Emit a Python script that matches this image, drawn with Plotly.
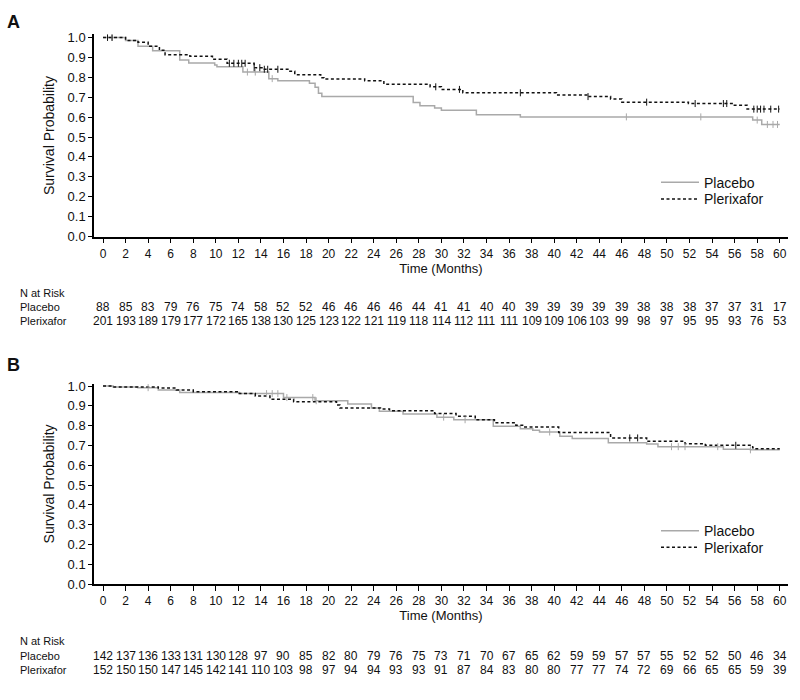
import numpy as np
import plotly.graph_objects as go

# ---------------- data ----------------
risk_times = list(range(0, 61, 2))

# Panel A
a_plac_t = [0, 2.0, 3.1, 4.4, 6.8, 7.6, 9.9, 10.1, 12.4, 14.7, 15.5, 18.3, 18.8, 19.1, 19.4,
            27.5, 28.1, 29.4, 30.0, 33.1, 37.0, 57.6, 58.4, 60]
a_plac_s = [1.0, 0.985, 0.955, 0.933, 0.887, 0.872, 0.862, 0.852, 0.826, 0.793, 0.782, 0.77, 0.75, 0.72, 0.703,
            0.673, 0.657, 0.645, 0.634, 0.612, 0.601, 0.585, 0.563, 0.563]
a_plac_cens = [0.4, 0.8, 12.8, 13.5, 15.0, 46.4, 53.0, 58.0, 58.9, 59.4, 59.8]

a_pler_t = [0, 2.0, 3.1, 4.0, 5.0, 5.5, 7.7, 9.7, 11.0, 13.4, 14.2, 16.5, 17.0, 19.3, 19.6, 23.2, 24.9,
            29.0, 30.0, 31.9, 40.2, 43.0, 45.0, 46.0, 51.9, 55.9, 57.1, 60]
a_pler_s = [1.0, 0.985, 0.975, 0.955, 0.935, 0.913, 0.905, 0.89, 0.87, 0.848, 0.84, 0.83, 0.813, 0.798, 0.791,
            0.782, 0.765, 0.752, 0.739, 0.722, 0.711, 0.703, 0.691, 0.675, 0.668, 0.659, 0.64, 0.64]
a_pler_cens = [0.4, 0.8, 11.2, 11.6, 12.0, 12.3, 12.6, 13.4, 13.9, 14.3, 14.6, 15.5, 29.5, 31.6, 37.0,
               43.0, 48.2, 52.5, 55.0, 55.3, 57.7, 58.0, 58.3, 58.6, 59.2, 59.9]

a_risk_plac = [88, 85, 83, 79, 76, 75, 74, 58, 52, 52, 46, 46, 46, 46, 44, 41, 41, 40, 40, 39, 39, 39, 39, 39,
               38, 38, 38, 37, 37, 31, 17]
a_risk_pler = [201, 193, 189, 179, 177, 172, 165, 138, 130, 125, 123, 122, 121, 119, 118, 114, 112, 111, 111,
               109, 109, 106, 103, 99, 98, 97, 95, 95, 93, 76, 53]

# Panel B
b_plac_t = [0, 0.9, 3.1, 4.9, 6.8, 12.1, 16.0, 18.8, 21.7, 23.8, 24.5, 26.6, 29.6, 31.1, 34.6, 37.0, 38.1,
            38.7, 40.5, 41.6, 44.8, 48.2, 49.2, 55.0, 57.4, 60]
b_plac_s = [1.0, 0.996, 0.992, 0.980, 0.967, 0.962, 0.942, 0.926, 0.909, 0.889, 0.873, 0.859, 0.843, 0.830,
            0.797, 0.785, 0.777, 0.768, 0.747, 0.735, 0.714, 0.707, 0.694, 0.681, 0.678, 0.678]
b_plac_cens = [4.0, 14.5, 15.0, 15.5, 16.3, 18.6, 18.9, 30.2, 32.1, 39.6, 50.4, 51.0, 51.6, 54.5, 57.4]

b_pler_t = [0, 0.9, 4.9, 6.5, 8.0, 12.0, 13.5, 14.8, 16.9, 20.7, 21.0, 24.6, 25.4, 29.4, 31.3, 33.0, 34.7,
            36.6, 37.2, 40.4, 45.0, 48.2, 51.6, 53.4, 57.6, 57.9, 60]
b_pler_s = [1.0, 0.996, 0.99, 0.98, 0.972, 0.962, 0.95, 0.934, 0.921, 0.904, 0.889, 0.884, 0.876, 0.861,
            0.848, 0.830, 0.815, 0.802, 0.793, 0.765, 0.738, 0.721, 0.709, 0.701, 0.688, 0.683, 0.683]
b_pler_cens = [46.7, 47.4, 56.1]

b_risk_plac = [142, 137, 136, 133, 131, 130, 128, 97, 90, 85, 82, 80, 79, 76, 75, 73, 71, 70, 67, 65, 62,
               59, 59, 57, 57, 55, 52, 52, 50, 46, 34]
b_risk_pler = [152, 150, 150, 147, 145, 142, 141, 110, 103, 98, 97, 94, 94, 93, 93, 91, 87, 84, 83, 80, 80,
               77, 77, 74, 72, 69, 66, 65, 65, 59, 39]

x_ticks = list(range(0, 61, 2))
y_ticks = [round(0.1 * i, 1) for i in range(11)]

# ---------------- style ----------------
GRAY = "#a9a9a9"
BLACK = "#111111"
FONT = "Liberation Sans, Arial, sans-serif"


def step_value(ts, ss, t):
    idx = int(np.searchsorted(np.array(ts), t, side="right")) - 1
    return ss[max(idx, 0)]


fig = go.Figure()


def add_panel(xa, ya, leg_p, leg_l, pt, ps, pc, lt, ls, lc):
    fig.add_trace(go.Scatter(x=pt, y=ps, mode="lines", line=dict(shape="hv", color=GRAY, width=1.5),
                             name="Placebo", xaxis=xa, yaxis=ya, legend=leg_p))
    fig.add_trace(go.Scatter(x=lt, y=ls, mode="lines",
                             line=dict(shape="hv", color=BLACK, width=1.5, dash="3px,2.5px"),
                             name="Plerixafor", xaxis=xa, yaxis=ya, legend=leg_l))
    fig.add_trace(go.Scatter(x=pc, y=[step_value(pt, ps, t) for t in pc], mode="markers",
                             marker=dict(symbol="line-ns", size=5, line=dict(color=GRAY, width=1)),
                             showlegend=False, hoverinfo="skip", xaxis=xa, yaxis=ya))
    fig.add_trace(go.Scatter(x=lc, y=[step_value(lt, ls, t) for t in lc], mode="markers",
                             marker=dict(symbol="line-ns", size=5, line=dict(color=BLACK, width=1)),
                             showlegend=False, hoverinfo="skip", xaxis=xa, yaxis=ya))


add_panel("x", "y", "legend", "legend2", a_plac_t, a_plac_s, a_plac_cens, a_pler_t, a_pler_s, a_pler_cens)
add_panel("x2", "y2", "legend3", "legend4", b_plac_t, b_plac_s, b_plac_cens, b_pler_t, b_pler_s, b_pler_cens)

xdom = [94 / 800, 788 / 800]
xrange = [-0.8, 60.73]

common_x = dict(range=xrange, domain=xdom, tickvals=x_ticks, ticktext=[str(v) for v in x_ticks],
                showline=True, linecolor="black", linewidth=1.5, ticks="outside", ticklen=5,
                tickcolor="black", tickwidth=1.2, showgrid=False, zeroline=False,
                tickfont=dict(family=FONT, size=12, color="#111"),
                title=dict(text="Time (Months)", font=dict(family=FONT, size=13, color="#111"), standoff=4))
common_y = dict(tickvals=y_ticks, ticktext=[f"{v:.1f}" for v in y_ticks],
                showline=True, linecolor="black", linewidth=1.5, ticks="outside", ticklen=4,
                tickcolor="black", tickwidth=1.2, showgrid=False, zeroline=False,
                tickfont=dict(family=FONT, size=13, color="#111"),
                title=dict(text="Survival Probability", font=dict(family=FONT, size=14, color="#111"), standoff=10))


def leg(ypix):
    return dict(x=656 / 800, y=1 - ypix / 700, xanchor="left", yanchor="middle", itemwidth=38,
                font=dict(family=FONT, size=14, color="#111"), bgcolor="rgba(0,0,0,0)",
                borderwidth=0)


fig.update_layout(
    width=800, height=700, margin=dict(l=0, r=0, t=0, b=0),
    paper_bgcolor="white", plot_bgcolor="white",
    font=dict(family=FONT, color="#111"),
    xaxis=dict(**common_x, anchor="y"),
    yaxis=dict(**common_y, range=[0, 1.0148], domain=[(700 - 236) / 700, (700 - 30) / 700], anchor="x"),
    xaxis2=dict(**common_x, anchor="y2"),
    yaxis2=dict(**common_y, range=[0, 1.0114], domain=[(700 - 590) / 700, (700 - 386) / 700], anchor="x2"),
    legend=leg(181), legend2=leg(198), legend3=leg(536), legend4=leg(553),
    showlegend=True,
)

annotations = []
annotations.append(dict(text="<b>A</b>", x=13 / 800, y=1 - 17 / 700, xref="paper", yref="paper",
                        xanchor="center", yanchor="middle",
                        showarrow=False, font=dict(family=FONT, size=18, color="#111")))
annotations.append(dict(text="<b>B</b>", x=13 / 800, y=1 - 367 / 700, xref="paper", yref="paper",
                        xanchor="center", yanchor="middle",
                        showarrow=False, font=dict(family=FONT, size=18, color="#111")))


def risk_table(xref, y_head, y_p, y_l, plac, pler):
    lf = dict(family=FONT, size=11, color="#111")
    nf = dict(family=FONT, size=12, color="#111")
    annotations.append(dict(text="N at Risk", x=18 / 800, y=1 - y_head / 700, xref="paper", yref="paper",
                            xanchor="left", yanchor="middle", showarrow=False, font=lf))
    annotations.append(dict(text="Placebo", x=18 / 800, y=1 - y_p / 700, xref="paper", yref="paper",
                            xanchor="left", yanchor="middle", showarrow=False, font=lf))
    annotations.append(dict(text="Plerixafor", x=18 / 800, y=1 - y_l / 700, xref="paper", yref="paper",
                            xanchor="left", yanchor="middle", showarrow=False, font=lf))
    for t, n1, n2 in zip(risk_times, plac, pler):
        annotations.append(dict(text=str(n1), x=t, y=1 - y_p / 700, xref=xref, yref="paper",
                                xanchor="center", yanchor="middle", showarrow=False, font=nf))
        annotations.append(dict(text=str(n2), x=t, y=1 - y_l / 700, xref=xref, yref="paper",
                                xanchor="center", yanchor="middle", showarrow=False, font=nf))


risk_table("x", 293, 308, 322, a_risk_plac, a_risk_pler)
risk_table("x2", 648, 663, 678, b_risk_plac, b_risk_pler)

fig.update_layout(annotations=annotations)
fig.write_html("out.html", config={"displayModeBar": False},
               post_script="document.body.style.margin='0';document.body.style.overflow='hidden';")
